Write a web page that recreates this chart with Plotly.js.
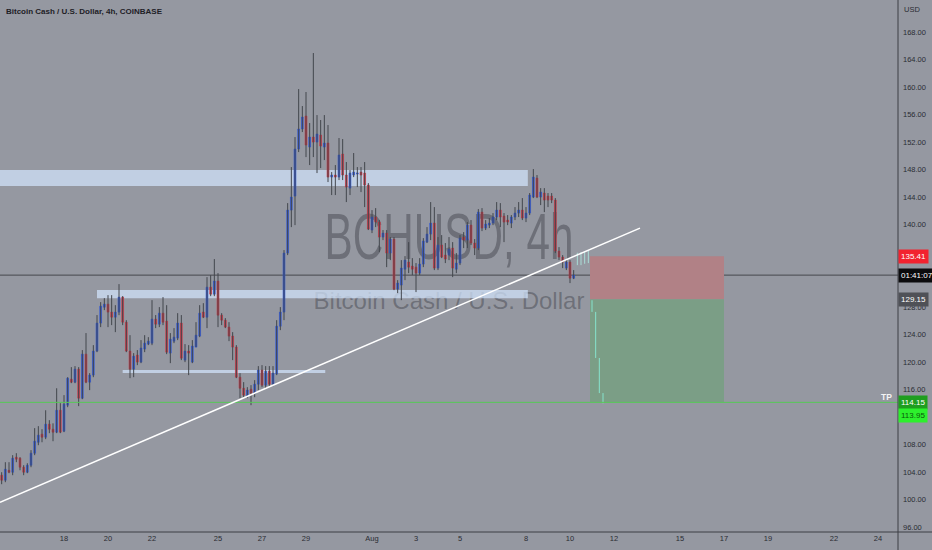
<!DOCTYPE html>
<html><head><meta charset="utf-8">
<script src="https://cdn.plot.ly/plotly-3.0.1.min.js"></script>
<style>html,body{margin:0;padding:0;background:#9598a1;overflow:hidden;}#chart{width:932px;height:550px;}</style>
</head><body><div id="chart"></div>
<script>
// ---- data ----
const startTime = '2022-07-15T04:00:00Z';   // first 4h bar
const barHours = 4;
const openP = [103.56,102.83,104.28,103.99,106.18,106.03,104.72,103.99,105.01,106.76,108.35,109.53,109.09,110.98,110.25,109.82,113.0,109.96,113.74,117.52,117.09,118.98,114.76,121.16,117.09,118.11,121.6,125.67,127.99,128.43,127.27,126.54,127.27,129.45,125.81,121.6,118.98,121.02,120.0,121.89,122.62,122.76,126.25,125.52,127.12,125.96,121.31,123.05,123.49,125.67,120.29,121.6,120.0,122.18,123.78,127.27,126.54,130.9,129.88,131.78,126.83,126.1,125.09,123.78,122.18,117.81,116.2,115.05,116.07,115.49,116.8,118.84,116.65,118.69,116.8,118.26,125.23,127.27,135.85,142.1,144.14,150.98,153.89,155.78,151.27,152.72,151.99,153.01,151.27,151.85,146.9,147.2,146.9,150.25,147.2,145.3,147.2,147.34,147.63,147.49,145.74,139.2,141.09,140.36,138.18,138.76,135.85,137.89,130.61,131.2,133.52,134.54,133.96,133.81,132.94,134.25,137.45,138.61,140.21,133.67,137.02,135.56,135.56,136.58,133.52,134.4,138.18,137.74,139.92,137.31,136.58,141.81,139.49,139.92,140.21,141.09,142.1,141.23,140.65,140.21,141.09,141.67,142.1,140.94,141.67,144.0,146.76,144.0,144.58,144.14,144.14,143.56,136.14,135.27,133.67,134.54,132.21];
const highP = [103.99,105.45,105.45,106.47,106.76,106.18,105.01,105.3,107.2,110.4,110.69,110.25,113.0,111.56,111.1,116.2,114.03,115.2,117.81,119.27,119.42,119.27,121.75,124.22,118.4,122.47,126.84,128.72,129.3,129.74,129.74,128.28,131.34,129.6,126.1,123.92,121.31,121.75,123.2,123.92,123.63,129.01,126.84,128.0,129.45,128.28,124.22,124.94,127.12,126.84,122.62,122.47,123.2,125.81,128.28,128.57,132.36,132.65,134.98,132.94,127.12,126.4,125.81,124.36,122.47,118.4,117.09,116.36,116.65,117.38,119.42,119.56,119.42,119.42,119.42,126.1,128.0,136.29,143.12,148.36,152.72,159.7,157.23,159.27,154.76,164.94,155.92,155.2,155.92,154.47,147.63,148.65,152.58,152.43,149.09,147.92,150.4,148.36,148.36,149.09,146.03,142.1,142.39,140.65,139.2,139.2,138.18,138.18,131.92,134.83,135.41,137.45,135.12,134.4,135.12,138.03,139.63,143.27,142.54,138.18,138.47,137.31,138.18,137.45,135.85,138.47,138.9,140.36,140.65,137.89,142.25,142.39,140.65,140.94,141.67,143.27,143.12,141.67,141.38,141.38,142.54,143.27,143.85,142.54,144.58,148.07,147.2,145.3,145.3,144.58,144.58,143.85,136.72,135.56,134.98,134.83,133.38];
const lowP = [102.25,102.54,103.85,103.56,105.45,104.28,103.56,103.85,104.72,106.47,107.92,108.35,108.8,109.67,108.5,109.67,109.67,109.82,113.45,116.94,116.94,113.6,114.61,116.94,115.93,117.81,121.45,125.09,127.56,125.09,125.38,124.36,126.83,125.38,121.45,117.67,117.81,119.56,119.85,121.45,122.47,122.47,124.94,125.09,125.38,121.16,119.85,122.76,123.2,120.29,120.0,118.11,119.85,122.18,123.63,126.4,124.94,129.59,129.59,125.09,125.38,124.94,123.05,120.29,117.67,114.76,114.9,114.76,113.74,114.9,115.93,116.36,116.2,116.51,116.51,118.11,124.65,126.1,135.56,139.63,139.92,150.54,153.45,149.81,148.65,149.81,147.49,148.21,149.38,146.18,144.29,144.29,146.47,146.47,143.27,144.29,146.9,145.45,144.72,142.54,139.2,138.76,139.63,135.99,137.74,133.81,134.83,130.47,130.03,129.01,131.92,132.94,132.65,130.18,132.65,133.81,137.31,137.74,133.38,133.38,135.12,134.4,134.83,132.36,132.94,134.11,136.58,136.58,137.02,135.56,136.29,139.05,139.2,139.49,139.92,140.65,139.63,137.45,139.92,139.49,140.65,141.09,140.65,140.36,141.38,143.85,143.85,142.83,141.81,142.54,143.12,135.85,134.83,133.67,133.38,131.49,132.07];
const closeP = [102.83,104.43,103.99,106.03,105.89,104.72,103.99,105.01,106.76,108.5,109.38,109.09,110.98,110.25,109.82,113.0,109.82,113.89,117.67,117.09,118.98,114.76,121.16,117.09,118.11,121.6,125.67,128.14,128.43,127.27,126.54,127.27,129.45,125.81,121.6,118.98,120.87,120.0,122.04,122.76,123.05,126.25,125.52,127.12,125.81,121.45,123.34,123.63,125.67,120.58,121.6,121.31,122.33,123.92,127.12,126.54,130.9,129.88,131.78,126.83,126.1,125.09,123.78,122.18,117.81,116.2,115.2,115.93,115.49,116.8,118.84,116.65,118.69,116.8,118.4,125.23,127.27,135.85,142.1,144.0,150.98,153.89,155.63,151.56,152.72,151.99,153.16,151.41,151.85,146.9,147.2,146.9,150.11,147.2,145.45,147.49,147.63,147.49,147.2,145.74,139.34,141.09,140.36,138.18,138.76,135.85,137.89,130.61,131.49,133.67,134.83,133.81,133.52,132.94,134.25,137.6,138.61,140.21,133.67,137.02,135.27,134.98,136.43,133.67,134.4,138.03,137.74,139.92,137.31,136.58,141.81,139.49,140.07,140.21,141.09,142.1,141.09,140.36,140.36,141.09,141.67,142.1,140.94,141.67,144.29,146.9,144.0,144.72,143.56,143.56,143.56,136.14,135.27,134.54,134.54,132.21,132.65];

// projected (ghost) bars after the last candle
const ghostTimes = ['2022-08-10 08:00','2022-08-10 12:00','2022-08-10 16:00','2022-08-10 20:00'];
const ghostHigh = [135.9,136.0,136.1,136.2];
const ghostLow  = [134.1,134.1,134.3,134.4];
// projection path inside the target zone
const projTimes  = ['2022-08-11 00:00','2022-08-11 04:00','2022-08-11 08:00','2022-08-11 12:00'];
const projTop    = [129.0,127.3,120.6,115.5];
const projBottom = [127.3,120.6,115.5,114.0];

// drawn levels
const upperZone = [145.6,147.92];
const midZone = [129.3,130.47];
const lowZone = [118.4,118.84];
const trendStart = ['2022-07-15 02:11',99.63];
const trendEnd = ['2022-08-13 04:22',139.49];
const stopLoss = 135.41, entry = 129.15, target = 114.15, targetAlt = 113.95;
const lastPrice = 132.65;
const countdown = '01:41:07';

const tickDates = ['2022-07-18','2022-07-20','2022-07-22','2022-07-25','2022-07-27','2022-07-29','2022-08-01','2022-08-03','2022-08-05','2022-08-08','2022-08-10','2022-08-12','2022-08-15','2022-08-17','2022-08-19','2022-08-22','2022-08-24'];
const tickText = ['18','20','22','25','27','29','Aug','3','5','8','10','12','15','17','19','22','24'];
const priceTicks = [96,100,104,108,112,116,120,124,128,132,136,140,144,148,152,156,160,164,168];

// ---- build ----
const FONT = '"Liberation Sans",Arial,sans-serif';
const BG = '#9598a1';
function fmt(ms){ return new Date(ms).toISOString().slice(0,16).replace('T',' '); }
const t0 = Date.parse(startTime);
const times = openP.map((_, i) => fmt(t0 + i*barHours*3600e3));

const wx = [], wy = [];
times.forEach((t, i) => { wx.push(t, t, null); wy.push(highP[i], lowP[i], null); });
const bodyHigh = openP.map((o, i) => Math.max(o, closeP[i]));
const bodyLow = openP.map((o, i) => Math.min(o, closeP[i]));

const gx = [], gy = [];
ghostTimes.forEach((t, i) => { gx.push(t, t, null); gy.push(ghostHigh[i], ghostLow[i], null); });
const px = [], py = [];
projTimes.forEach((t, i) => { px.push(t, t, null); py.push(projTop[i], projBottom[i], null); });

const traces = [
  {type:'scatter', mode:'lines', x:wx, y:wy, line:{color:'#43464d', width:1}, hoverinfo:'skip', showlegend:false},
  {type:'candlestick', x:times, open:openP, high:bodyHigh, low:bodyLow, close:closeP,
   increasing:{line:{color:'#2e55d6', width:0.6}, fillcolor:'#2e55d6'},
   decreasing:{line:{color:'#cc3340', width:0.6}, fillcolor:'#cc3340'},
   hoverinfo:'skip', showlegend:false},
  {type:'scatter', mode:'lines', x:gx, y:gy, line:{color:'#a9dcd6', width:1}, hoverinfo:'skip', showlegend:false},
  {type:'scatter', mode:'lines', x:px, y:py, line:{color:'#86e3cc', width:1}, hoverinfo:'skip', showlegend:false}
];

const xRange = ['2022-07-15 02:11','2022-08-24 21:49'];
const zoneEnd = '2022-08-08 02:00';
const posStart = '2022-08-10 21:49', posEnd = '2022-08-17 00:00';
const WM_COLOR = 'rgba(60,62,70,0.45)';

const shapes = [
  {type:'rect', xref:'paper', yref:'paper', x0:0.25, x1:0.75, y0:0.505, y1:0.625, line:{width:0}, fillcolor:'rgba(0,0,0,0)', layer:'below',
   label:{text:'BCHUSD, 4h', font:{family:FONT, size:64, color:WM_COLOR}, textposition:'middle center'}},
  {type:'rect', xref:'paper', yref:'paper', x0:0.25, x1:0.75, y0:0.407, y1:0.472, line:{width:0}, fillcolor:'rgba(0,0,0,0)', layer:'below',
   label:{text:'Bitcoin Cash / U.S. Dollar', font:{family:FONT, size:24, color:WM_COLOR}, textposition:'middle center'}},
  {type:'rect', xref:'x', yref:'y', x0:'2022-07-14 00:00', x1:zoneEnd, y0:upperZone[0], y1:upperZone[1], line:{width:0}, fillcolor:'rgba(210,228,252,0.72)', layer:'below'},
  {type:'rect', xref:'x', yref:'y', x0:'2022-07-19 12:00', x1:zoneEnd, y0:midZone[0], y1:midZone[1], line:{width:0}, fillcolor:'rgba(210,228,252,0.72)', layer:'below'},
  {type:'rect', xref:'x', yref:'y', x0:'2022-07-20 16:00', x1:'2022-07-29 21:00', y0:lowZone[0], y1:lowZone[1], line:{width:0}, fillcolor:'rgba(210,228,252,0.72)', layer:'below'},
  {type:'rect', xref:'x', yref:'y', x0:posStart, x1:posEnd, y0:entry, y1:stopLoss, line:{width:0}, fillcolor:'#b18186', layer:'below'},
  {type:'rect', xref:'x', yref:'y', x0:posStart, x1:posEnd, y0:target, y1:entry, line:{width:0}, fillcolor:'#7b9e86', layer:'below'},
  {type:'line', xref:'paper', yref:'y', x0:0, x1:1, y0:lastPrice, y1:lastPrice, line:{color:'rgba(45,45,50,0.75)', width:1}, layer:'below'},
  {type:'line', xref:'paper', yref:'y', x0:0, x1:1, y0:target, y1:target, line:{color:'#56c956', width:1}},
  {type:'line', xref:'x', yref:'y', x0:trendStart[0], y0:trendStart[1], x1:trendEnd[0], y1:trendEnd[1], line:{color:'#ffffff', width:1.5}},
  {type:'line', xref:'paper', yref:'paper', x0:1, x1:1, y0:-18/532, y1:1, line:{color:'#3c3e44', width:1}},
  {type:'line', xref:'paper', yref:'paper', x0:0, x1:932/898, y0:0, y1:0, line:{color:'#3c3e44', width:1}}
];

function tag(y, text, bg, color, extra){
  return Object.assign({xref:'paper', yref:'y', x:1, y:y, xanchor:'left', yanchor:'middle', text:text, showarrow:false,
    bgcolor:bg, borderpad:2, font:{family:FONT, size:8, color:color}}, extra||{});
}
const annotations = [
  {xref:'paper', yref:'paper', x:0.004, y:1, xanchor:'left', yanchor:'top', yshift:-5, showarrow:false,
   text:'<b>Bitcoin Cash / U.S. Dollar, 4h, COINBASE</b>', font:{family:FONT, size:8, color:'#1e2026'}},
  {xref:'paper', yref:'paper', x:1, y:1, xanchor:'left', yanchor:'top', xshift:4, yshift:-3, showarrow:false,
   text:'USD', font:{family:FONT, size:7.5, color:'#2a2c33'}},
  tag(stopLoss, stopLoss.toFixed(2), '#f2222f', '#ffffff'),
  tag(lastPrice - 0.05, countdown, '#0b0b0d', '#ffffff'),
  tag(entry, entry.toFixed(2), '#4f5157', '#ffffff'),
  tag(target, target.toFixed(2), '#1f9e1f', '#ffffff'),
  tag(targetAlt - 1.7, targetAlt.toFixed(2), '#2df02d', '#0a5a0a'),
  {xref:'paper', yref:'y', x:1, y:target + 0.8, xanchor:'right', yanchor:'middle', xshift:-4, showarrow:false,
   text:'<b>TP</b>', font:{family:FONT, size:8.5, color:'#f4f4f4'}}
];

const layout = {
  width:932, height:550, margin:{l:0, r:34, t:0, b:18},
  paper_bgcolor:BG, plot_bgcolor:BG, showlegend:false, dragmode:false,
  font:{family:FONT, size:7.5, color:'#2a2c33'},
  xaxis:{type:'date', range:xRange, tickvals:tickDates, ticktext:tickText, showgrid:false, zeroline:false,
         showline:false, ticks:'', tickfont:{family:FONT, size:7.5, color:'#2a2c33'}, rangeslider:{visible:false}, fixedrange:true},
  yaxis:{side:'right', range:[95.3,172.65], tickvals:priceTicks, ticktext:priceTicks.map(v => v.toFixed(2)),
         showgrid:false, zeroline:false, showline:false, ticks:'', ticklabelstandoff:4,
         tickfont:{family:FONT, size:7.5, color:'#2a2c33'}, fixedrange:true},
  shapes:shapes, annotations:annotations
};
Plotly.newPlot('chart', traces, layout, {staticPlot:true, displayModeBar:false}).then(() => {
  // the reference watermark uses a condensed face: narrow the big symbol text around its centre
  document.querySelectorAll('#chart .shape-label-text').forEach(el => {
    if (el.textContent === 'BCHUSD, 4h') {
      el.style.transformBox = 'fill-box';
      el.style.transformOrigin = 'center';
      el.style.transform = 'scaleX(0.66)';
    }
  });
});
</script></body></html>
